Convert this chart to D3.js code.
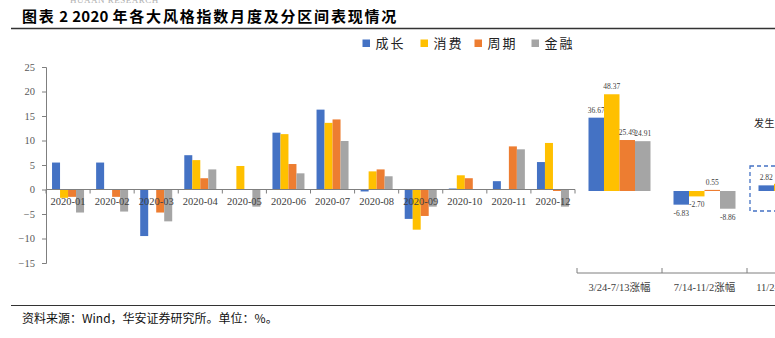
<!DOCTYPE html>
<html><head><meta charset="utf-8">
<script src="https://cdn.jsdelivr.net/npm/d3@7"></script>
<style>
html,body{margin:0;padding:0;background:#fff;}
svg{display:block;}
</style></head>
<body><svg id="c" width="775" height="338"></svg>
<script>
// ---- data ----
const months = ["2020-01","2020-02","2020-03","2020-04","2020-05","2020-06","2020-07","2020-08","2020-09","2020-10","2020-11","2020-12"];
const seriesNames = ["成长","消费","周期","金融"];
const seriesColors = ["#4472C4","#FFC000","#ED7D31","#A5A5A5"];
const growth  = [5.5, 5.5, -9.5, 7.0, 0.0, 11.6, 16.3, -0.4, -6.0, 0.2, 1.7, 5.6];
const consume = [-1.7, 0.0, 0.0, 6.0, 4.8, 11.3, 13.6, 3.7, -8.2, 2.9, 0.0, 9.5];
const cycle   = [-1.5, -1.5, -4.7, 2.3, 0.0, 5.2, 14.3, 4.1, -5.4, 2.3, 8.8, -0.3];
const finance = [-4.7, -4.5, -6.5, 4.1, -3.5, 3.3, 9.9, 2.7, -3.5, -0.1, 8.2, -3.5];
const yTicks = [-15,-10,-5,0,5,10,15,20,25];

const periods = ["3/24-7/13涨幅","7/14-11/2涨幅","11/2-12/31涨幅"];
const periodGrowth  = [36.67, -6.83, 2.82];
const periodConsume = [48.37, -2.70, 3.6];
const periodCycle   = [25.49, 0.55, 9.2];
const periodFinance = [24.91, -8.86, 6.1];
const periodLabelShown = [[true,true,true,true],[true,true,true,true],[true,false,false,false]];

const titleParts = [["图表",true],[" 2 2020 ",false],["年各大风格指数月度及分区间表现情况",true]];
const footText = "资料来源：Wind，华安证券研究所。单位：%。";
const noteText = "发生";

// ---- drawing ----
const svg = d3.select("#c");
const serif = "'Liberation Serif','Times New Roman',serif";
const cjk = "'Noto Sans CJK SC','Noto Sans',sans-serif";

// header watermark (cut off)
svg.append("text").attr("x",70).attr("y",2.5).attr("font-family",serif)
  .attr("font-size",9).attr("fill","#b0b0b0").attr("letter-spacing",0.5).text("HUAAN RESEARCH");

// title
const tt = svg.append("text").attr("x",22).attr("y",22).attr("font-family",cjk).attr("font-weight","bold")
  .attr("font-size",15).attr("fill","#000");
titleParts.forEach(([t,sp])=>{
  tt.append("tspan").attr("letter-spacing", sp ? 1.8 : 0.3).text(t);
});
svg.append("line").attr("x1",11).attr("x2",775).attr("y1",28.5).attr("y2",28.5)
  .attr("stroke","#333").attr("stroke-width",1.6);

// legend
const leg = svg.append("g");
const legX = [362.5, 420.5, 474.5, 531.5];
seriesNames.forEach((n,i)=>{
  const g = leg.append("g").attr("transform",`translate(${legX[i]},0)`);
  g.append("rect").attr("x",0).attr("y",39.5).attr("width",7.5).attr("height",7.5).attr("fill",seriesColors[i]);
  g.append("text").attr("x",13).attr("y",48).attr("font-family",cjk).attr("font-size",13)
    .attr("letter-spacing",2).attr("fill","#222").text(n);
});

// ---- left chart ----
const monthSeries = [growth, consume, cycle, finance];
const x = d3.scaleBand().domain(months).range([46,575]).padding(0);
const xs = d3.scaleBand().domain(seriesNames).range([0,x.bandwidth()]).paddingInner(0).paddingOuter(0.755);
const y = d3.scaleLinear().domain([-15,25]).range([263,67]);

const left = svg.append("g");
months.forEach((m,mi)=>{
  seriesNames.forEach((s,si)=>{
    const v = monthSeries[si][mi];
    if (v === 0) return;
    left.append("rect")
      .attr("x", x(m)+xs(s)).attr("width", xs.bandwidth())
      .attr("y", y(Math.max(0,v))).attr("height", Math.abs(y(v)-y(0)))
      .attr("fill", seriesColors[si]);
  });
});

// y axis
const yAxis = d3.axisLeft(y).tickValues(yTicks).tickSize(4).tickPadding(7);
const ya = svg.append("g").attr("transform","translate(46,0)").call(yAxis);
ya.select(".domain").attr("stroke","#7f7f7f");
ya.selectAll(".tick line").attr("stroke","#7f7f7f");
ya.selectAll("text").attr("font-family",serif).attr("font-size",10.5).attr("fill","#595959");

// x axis at zero
const xa = svg.append("g").attr("transform",`translate(0,${y(0)})`);
xa.append("line").attr("x1",46).attr("x2",575).attr("stroke","#7f7f7f");
const bounds = months.map(m=>x(m)).concat([x(months[months.length-1])+x.bandwidth()]);
bounds.forEach(b=>{
  xa.append("line").attr("x1",b).attr("x2",b).attr("y1",0).attr("y2",4).attr("stroke","#7f7f7f");
});
months.forEach(m=>{
  xa.append("text").attr("x",x(m)+x.bandwidth()/2).attr("y",15.5).attr("text-anchor","middle")
    .attr("font-family",serif).attr("font-size",10.5).attr("fill","#404040").text(m);
});

// ---- right chart ----
const periodSeries = [periodGrowth, periodConsume, periodCycle, periodFinance];
const px = d3.scaleBand().domain(periods).range([577,832]).padding(0);
const pxs = d3.scaleBand().domain(seriesNames).range([0,px.bandwidth()]).paddingInner(0).paddingOuter(0.742);
const py = d3.scaleLinear().domain([-41,60]).range([273,71]);

const right = svg.append("g");
periods.forEach((p,pi)=>{
  seriesNames.forEach((s,si)=>{
    const v = periodSeries[si][pi];
    const bx = px(p)+pxs(s);
    right.append("rect")
      .attr("x", bx).attr("width", pxs.bandwidth())
      .attr("y", py(Math.max(0,v))).attr("height", Math.abs(py(v)-py(0)))
      .attr("fill", seriesColors[si]);
    if (periodLabelShown[pi][si]) {
      right.append("text")
        .attr("x", bx+pxs.bandwidth()/2)
        .attr("y", v>=0 ? py(v)-5 : py(v)+11)
        .attr("text-anchor","middle").attr("font-family",serif).attr("font-size",7.5)
        .attr("fill","#404040").text(v.toFixed(2));
    }
  });
});

// right x axis
const rx = svg.append("g").attr("transform","translate(0,273)");
rx.append("line").attr("x1",577).attr("x2",775).attr("stroke","#7f7f7f");
periods.map(p=>px(p)).forEach(b=>{
  rx.append("line").attr("x1",b).attr("x2",b).attr("y1",0).attr("y2",-5).attr("stroke","#7f7f7f");
});
periods.forEach(p=>{
  rx.append("text").attr("x",px(p)+px.bandwidth()/2).attr("y",18).attr("text-anchor","middle")
    .attr("font-family",serif+","+cjk).attr("font-size",10.5).attr("fill","#404040").text(p);
});

// highlight box and note
const hb = periods[2];
svg.append("rect").attr("x",px(hb)+3).attr("y",166).attr("width",100).attr("height",45)
  .attr("fill","none").attr("stroke","#4472C4").attr("stroke-width",1.3).attr("stroke-dasharray","4,3");
svg.append("text").attr("x",px(hb)+7).attr("y",127).attr("font-family",cjk).attr("font-size",10)
  .attr("letter-spacing",0.5).attr("fill","#222").text(noteText);

// footer
svg.append("line").attr("x1",11).attr("x2",775).attr("y1",305.5).attr("y2",305.5)
  .attr("stroke","#333").attr("stroke-width",1.2);
svg.append("text").attr("x",22).attr("y",322.5).attr("font-family",cjk).attr("font-size",12)
  .attr("fill","#111").text(footText);
</script></body></html>
